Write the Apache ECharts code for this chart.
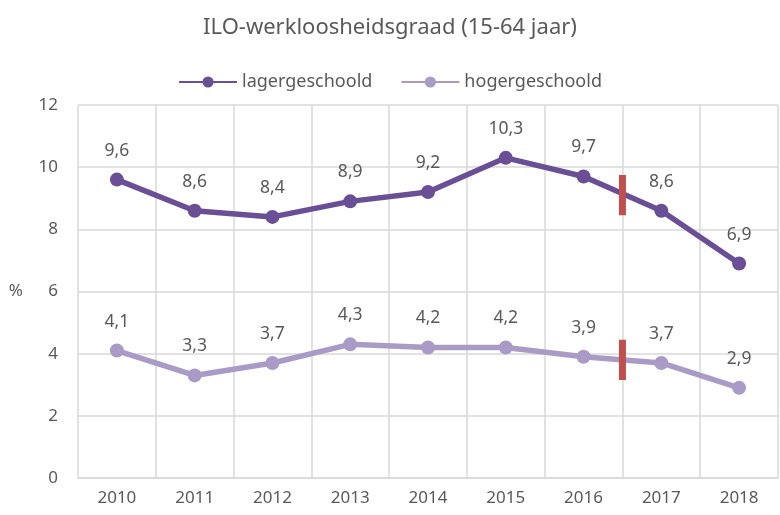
<!DOCTYPE html>
<html>
<head>
<meta charset="utf-8">
<script src="https://cdn.jsdelivr.net/npm/echarts@6/dist/echarts.min.js"></script>
<style>
  html, body { margin: 0; padding: 0; background: #fff; }
  #chart { width: 780px; height: 515px; }
</style>
</head>
<body>
<div id="chart"></div>
<script>
const years = ['2010', '2011', '2012', '2013', '2014', '2015', '2016', '2017', '2018']
const lagergeschoold = [9.6, 8.6, 8.4, 8.9, 9.2, 10.3, 9.7, 8.6, 6.9]
const hogergeschoold = [4.1, 3.3, 3.7, 4.3, 4.2, 4.2, 3.9, 3.7, 2.9]
// breuk in de reeks tussen 2016 en 2017
const breakPos = 6.5
const breakLager = [9.75, 8.45]
const breakHoger = [4.45, 3.15]

const font = 'Noto Sans'
const grey = '#595959'

const chart = echarts.init(document.getElementById('chart'))

const fmt = p => String(p.value).replace('.', ',')

chart.setOption({
  animation: false,
  textStyle: {fontFamily: font},
  title: {
    text: 'ILO-werkloosheidsgraad (15-64 jaar)',
    left: 'center',
    top: 12,
    textStyle: {fontFamily: font, fontSize: 22, fontWeight: 'normal', color: grey}
  },
  legend: {
    data: ['lagergeschoold', 'hogergeschoold'],
    top: 68,
    left: 'center',
    itemWidth: 58,
    itemHeight: 14,
    itemGap: 28,
    textStyle: {fontFamily: font, fontSize: 18, color: grey}
  },
  grid: {left: 78, right: 2, top: 105, bottom: 37},
  xAxis: [
    {
      type: 'category',
      data: years,
      axisLine: {lineStyle: {color: '#d9d9d9', width: 1.5}},
      axisTick: {show: false},
      splitLine: {show: true, lineStyle: {color: '#d9d9d9', width: 1.5}},
      axisLabel: {fontFamily: font, fontSize: 17, color: grey, margin: 12}
    },
    {
      type: 'value',
      min: -0.5,
      max: 8.5,
      show: false
    }
  ],
  yAxis: {
    type: 'value',
    min: 0,
    max: 12,
    interval: 2,
    name: '%',
    nameLocation: 'middle',
    nameRotate: 0,
    nameGap: 55,
    nameTextStyle: {fontFamily: font, fontSize: 17, color: grey},
    axisLine: {show: false},
    axisTick: {show: false},
    splitLine: {lineStyle: {color: '#d9d9d9', width: 1.5}},
    axisLabel: {fontFamily: font, fontSize: 17, color: grey, margin: 20}
  },
  series: [
    {
      name: 'lagergeschoold',
      type: 'line',
      data: lagergeschoold,
      color: '#6b4f96',
      symbol: 'circle',
      symbolSize: 14,
      lineStyle: {width: 5.5},
      label: {show: true, position: 'top', distance: 13, formatter: fmt,
        fontFamily: font, fontSize: 17.5, color: grey}
    },
    {
      name: 'hogergeschoold',
      type: 'line',
      data: hogergeschoold,
      color: '#a99bc6',
      symbol: 'circle',
      symbolSize: 14,
      lineStyle: {width: 5.5},
      label: {show: true, position: 'top', distance: 13, formatter: fmt,
        fontFamily: font, fontSize: 17.5, color: grey}
    },
    {
      name: 'breuk1',
      type: 'line',
      xAxisIndex: 1,
      data: breakLager.map(v => [breakPos, v]),
      symbol: 'none',
      color: '#c0504d',
      lineStyle: {width: 7, cap: 'butt'},
      z: 5
    },
    {
      name: 'breuk2',
      type: 'line',
      xAxisIndex: 1,
      data: breakHoger.map(v => [breakPos, v]),
      symbol: 'none',
      color: '#c0504d',
      lineStyle: {width: 7, cap: 'butt'},
      z: 5
    }
  ]
})
</script>
</body>
</html>
